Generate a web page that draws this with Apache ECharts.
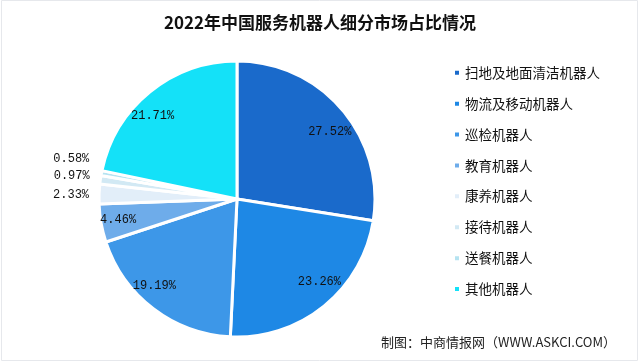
<!DOCTYPE html>
<html>
<head>
<meta charset="utf-8">
<script src="https://cdn.jsdelivr.net/npm/echarts@6/dist/echarts.min.js"></script>
<style>
html,body{margin:0;padding:0;background:#fff;}
#chart{width:640px;height:363px;}
</style>
</head>
<body>
<div id="chart"></div>
<script>
var categories = ['扫地及地面清洁机器人','物流及移动机器人','巡检机器人','教育机器人','康养机器人','接待机器人','送餐机器人','其他机器人'];
var shares = [27.52, 23.26, 19.19, 4.46, 2.33, 0.97, 0.58, 21.71];
var titleText = '2022年中国服务机器人细分市场占比情况';
var sourceText = '制图：中商情报网（WWW.ASKCI.COM）';

var colors = ['#1a6acb','#1e88e5','#3d97e8','#6eacea','#e2eef9','#d2e9f4','#b5e3f1','#14e1f8'];
var labelShift = [[38,-20],[37,27],[-39,30],[-48,8],[-94,-2],[-94,-13],[-95,-27],[-39,-27]];

var chart = echarts.init(document.getElementById('chart'), null, {renderer:'canvas'});
chart.setOption({
  backgroundColor:'#fff',
  animation:false,
  color: colors,
  title:{
    text:titleText, left:'center', top:9,
    textStyle:{fontFamily:'Noto Sans CJK SC', fontSize:17, fontWeight:'bold', color:'#111'}
  },
  legend:{
    orient:'vertical', left:448, top:61, itemWidth:6, itemHeight:6, itemGap:17.4,
    icon:'rect',
    textStyle:{fontFamily:'Noto Sans CJK SC', fontSize:13.5, color:'#111'},
    data:categories
  },
  graphic:[
    {type:'text', right:24, top:336, style:{text:sourceText, font:'13px "Noto Sans CJK SC"', fill:'#222'}},
    {type:'rect', shape:{x:1.5,y:0.5,width:636,height:360}, style:{fill:'none', stroke:'#e6e8ec', lineWidth:1}}
  ],
  series:[{
    type:'pie',
    center:[237,199],
    radius:[0,138],
    startAngle:90,
    clockwise:true,
    avoidLabelOverlap:false,
    itemStyle:{borderColor:'#fff', borderWidth:3},
    label:{position:'inside', fontFamily:'Liberation Mono', fontSize:12, color:'#111',
      formatter:function(p){return p.value.toFixed(2)+'%';}},
    labelLine:{show:false},
    labelLayout:function(p){var s=labelShift[p.dataIndex];return {dx:s[0],dy:s[1]};},
    emphasis:{disabled:true},
    data:categories.map(function(c,i){return {name:c, value:shares[i]};})
  }]
});
</script>
</body>
</html>
